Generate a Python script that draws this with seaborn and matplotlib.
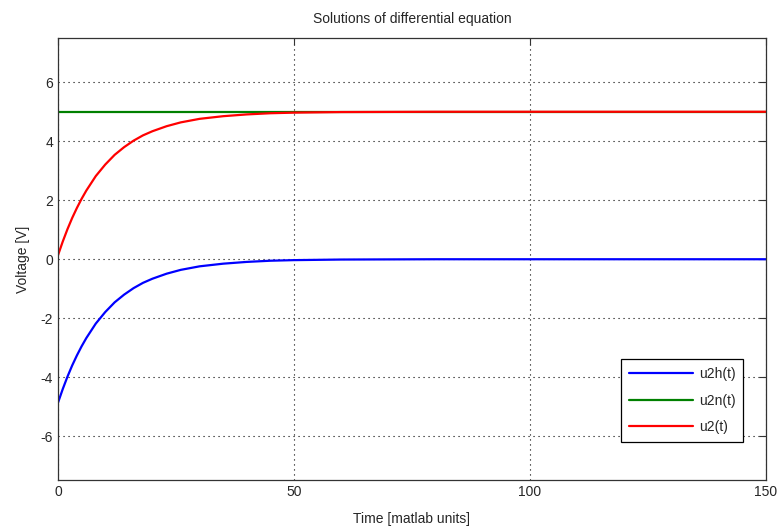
import pandas as pd
import matplotlib
matplotlib.use("Agg")
import matplotlib.pyplot as plt
import seaborn as sns

# values
time = [0, 1, 2, 3, 4, 5, 6, 8, 10, 12, 14, 16, 18, 20, 23, 26, 30, 35, 40, 45, 50, 55, 60, 80, 150]
u2h = [-4.86, -4.40, -3.98, -3.60, -3.26, -2.95, -2.67, -2.18, -1.79, -1.46, -1.20, -0.98, -0.80,
       -0.66, -0.49, -0.36, -0.24, -0.15, -0.09, -0.05, -0.03, -0.02, -0.01, 0.0, 0.0]
u2n = [5.0] * len(time)
u2 = [0.14, 0.60, 1.02, 1.40, 1.74, 2.05, 2.33, 2.82, 3.21, 3.54, 3.80, 4.02, 4.20,
      4.34, 4.51, 4.64, 4.76, 4.85, 4.91, 4.95, 4.97, 4.98, 4.99, 5.0, 5.0]

series_names = ["u2h(t)", "u2n(t)", "u2(t)"]
series_colors = ["#0000ff", "#008000", "#ff0000"]

df = pd.DataFrame({"Time": time, "u2h(t)": u2h, "u2n(t)": u2n, "u2(t)": u2})
long_df = df.melt(id_vars="Time", var_name="series", value_name="Voltage")

sns.set_style("white")
plt.rcParams["font.family"] = ["Liberation Sans", "DejaVu Sans"]
plt.rcParams["axes.unicode_minus"] = False

fig = plt.figure(figsize=(7.8, 5.28), dpi=100)
ax = fig.add_axes([0.0744, 0.09, 0.9076, 0.838])

sns.lineplot(data=long_df, x="Time", y="Voltage", hue="series", hue_order=series_names,
             palette=series_colors, linewidth=1.6, ax=ax, estimator=None, sort=False)

ax.set_xlim(0, 150)
ax.set_ylim(-7.5, 7.5)
ax.set_xticks([0, 50, 100, 150])
ax.set_yticks([-6, -4, -2, 0, 2, 4, 6])
ax.grid(True, color="black", linestyle=(0, (1, 3.5)), linewidth=0.8)
ax.tick_params(direction="in", length=5, top=True, right=True, labelsize=10, color="#333333")
for s in ax.spines.values():
    s.set_color("#333333")
    s.set_linewidth(0.9)

ax.set_title("Solutions of differential equation", fontsize=10, pad=11)
ax.set_xlabel("Time [matlab units]", fontsize=10, labelpad=9)
ax.set_ylabel("Voltage [V]", fontsize=10, labelpad=8)

leg = ax.legend(loc="lower right", bbox_to_anchor=(0.9775, 0.072), fontsize=10, fancybox=False,
                framealpha=1, edgecolor="black", handlelength=4.6, handletextpad=0.45,
                borderpad=0.55, labelspacing=0.9)
leg.get_frame().set_linewidth(0.9)

plt.savefig("out.png", dpi=100)
